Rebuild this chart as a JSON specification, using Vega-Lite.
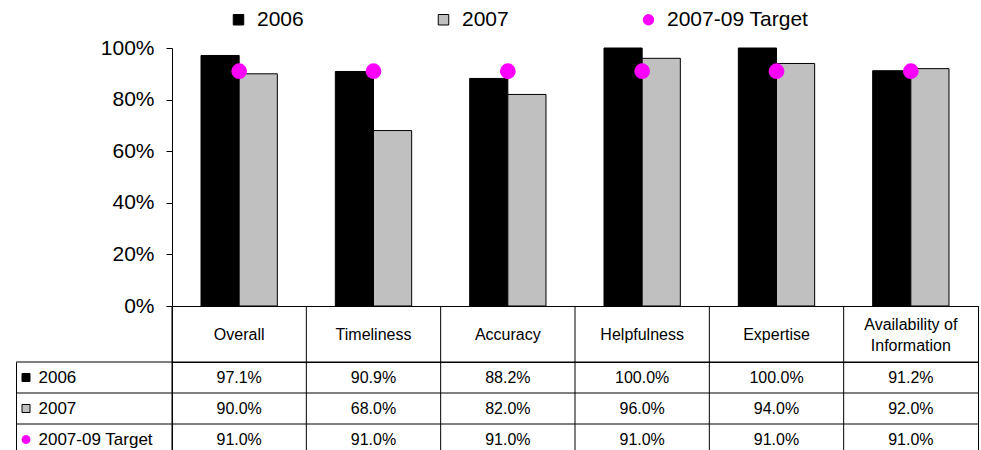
{
  "$schema": "https://vega.github.io/schema/vega-lite/v6.json",
  "padding": {"left": 15, "top": 9, "right": 0, "bottom": 0},
  "background": "white",
  "columns": 3,
  "spacing": 0,
  "bounds": "flush",
  "data": {"values": [
    {"category": "Overall", "series": "2006", "value": 0.971},
    {"category": "Overall", "series": "2007", "value": 0.90},
    {"category": "Overall", "series": "2007-09 Target", "value": 0.91},
    {"category": "Timeliness", "series": "2006", "value": 0.909},
    {"category": "Timeliness", "series": "2007", "value": 0.68},
    {"category": "Timeliness", "series": "2007-09 Target", "value": 0.91},
    {"category": "Accuracy", "series": "2006", "value": 0.882},
    {"category": "Accuracy", "series": "2007", "value": 0.82},
    {"category": "Accuracy", "series": "2007-09 Target", "value": 0.91},
    {"category": "Helpfulness", "series": "2006", "value": 1.0},
    {"category": "Helpfulness", "series": "2007", "value": 0.96},
    {"category": "Helpfulness", "series": "2007-09 Target", "value": 0.91},
    {"category": "Expertise", "series": "2006", "value": 1.0},
    {"category": "Expertise", "series": "2007", "value": 0.94},
    {"category": "Expertise", "series": "2007-09 Target", "value": 0.91},
    {"category": "Availability of Information", "series": "2006", "value": 0.912},
    {"category": "Availability of Information", "series": "2007", "value": 0.92},
    {"category": "Availability of Information", "series": "2007-09 Target", "value": 0.91}
  ]},
  "concat": [
    {"width": 20, "height": 258, "data": {"values": []}, "mark": "point", "encoding": {}},
    {"width": 136, "height": 258, "data": {"values": []}, "mark": "point", "encoding": {}},
    {
      "width": 806, "height": 258,
      "layer": [
        {
          "transform": [{"filter": "datum.series != '2007-09 Target'"}],
          "mark": {"type": "bar", "strokeWidth": 1},
          "encoding": {
            "x": {"field": "category", "type": "nominal", "sort": null,
              "scale": {"type": "band", "domain": ["Overall", "Timeliness", "Accuracy", "Helpfulness", "Expertise", "Availability of Information"], "paddingInner": 0, "paddingOuter": 0},
              "axis": {"title": null, "ticks": false, "tickSize": 0, "domain": true, "domainColor": "black", "labelAngle": 0, "labelFontSize": 16, "labelBaseline": "middle",
                "labelPadding": {"condition": {"test": "datum.value == 'Availability of Information'", "value": 18}, "value": 28},
                "labelLineHeight": 21, "labelLimit": 300,
                "labelExpr": "datum.label == 'Availability of Information' ? ['Availability of', 'Information'] : datum.label"}},
            "xOffset": {"field": "series", "type": "nominal", "scale": {"paddingInner": 0, "paddingOuter": 0.76}},
            "y": {"field": "value", "type": "quantitative",
              "scale": {"domain": [0, 1], "nice": false},
              "axis": {"title": null, "values": [0, 0.2, 0.4, 0.6, 0.8, 1], "format": ".0%", "grid": false, "labelFontSize": 21, "tickSize": 6, "tickColor": "black", "domainColor": "black", "labelPadding": 12}},
            "fill": {"field": "series", "type": "nominal",
              "scale": {"domain": ["2006", "2007", "2007-09 Target"], "range": ["#000000", "#c0c0c0", "#ff00ff"]},
              "legend": {"orient": "none", "legendX": 212, "legendY": -39, "direction": "horizontal", "title": null, "columns": 3, "gridAlign": "all", "columnPadding": 34, "labelFontSize": 21, "labelFont": "Liberation Sans", "labelColor": "black", "symbolSize": 110, "labelOffset": 8, "symbolStrokeWidth": 1, "symbolOpacity": 1}},
            "stroke": {"field": "series", "type": "nominal",
              "scale": {"domain": ["2006", "2007", "2007-09 Target"], "range": ["#000000", "#000000", "#ff00ff"]}}
          }
        },
        {
          "transform": [{"filter": "datum.series == '2007-09 Target'"}],
          "mark": {"type": "point", "filled": true, "size": 190, "opacity": 1},
          "encoding": {
            "x": {"field": "category", "type": "nominal", "sort": null},
            "y": {"field": "value", "type": "quantitative"},
            "fill": {"field": "series", "type": "nominal"},
            "stroke": {"field": "series", "type": "nominal"},
            "shape": {"field": "series", "type": "nominal",
              "scale": {"domain": ["2006", "2007", "2007-09 Target"], "range": ["square", "square", "circle"]}}
          }
        }
      ]
    },
    {"width": 20, "height": 56, "data": {"values": []}, "mark": "point", "encoding": {}},
    {"width": 136, "height": 56, "data": {"values": []}, "mark": "point", "encoding": {}},
    {
      "width": 806, "height": 56,
      "view": {"stroke": "black", "strokeWidth": 1},
      "transform": [{"filter": "datum.series == '2006'"}],
      "mark": {"type": "rule", "color": "black", "strokeWidth": 1},
      "encoding": {
        "x": {"field": "category", "type": "nominal", "sort": null, "bandPosition": 0,
          "scale": {"type": "band", "domain": ["Overall", "Timeliness", "Accuracy", "Helpfulness", "Expertise", "Availability of Information"], "paddingInner": 0, "paddingOuter": 0},
          "axis": null}
      }
    },
    {
      "width": 20, "height": 93,
      "layer": [
        {
          "transform": [{"filter": "datum.category == 'Overall'"}],
          "mark": {"type": "rule", "color": "black", "strokeWidth": 1},
          "encoding": {
            "y": {"field": "series", "type": "nominal", "bandPosition": 0,
              "scale": {"type": "band", "domain": ["2006", "2007", "2007-09 Target"], "paddingInner": 0, "paddingOuter": 0},
              "axis": {"title": null, "labels": false, "ticks": false, "tickSize": 0, "domain": true, "domainColor": "black", "grid": false}}
          }
        },
        {
          "transform": [{"filter": "datum.category == 'Overall'"}],
          "mark": {"type": "point", "filled": true, "size": 64, "opacity": 1, "strokeWidth": 1},
          "encoding": {
            "y": {"field": "series", "type": "nominal"},
            "fill": {"field": "series", "type": "nominal"},
            "stroke": {"field": "series", "type": "nominal"},
            "shape": {"field": "series", "type": "nominal"}
          }
        }
      ]
    },
    {
      "width": 136, "height": 93,
      "transform": [{"filter": "datum.category == 'Overall'"}],
      "mark": {"type": "rule", "color": "black", "strokeWidth": 1},
      "encoding": {
        "y": {"field": "series", "type": "nominal", "bandPosition": 0,
          "scale": {"type": "band", "domain": ["2006", "2007", "2007-09 Target"], "paddingInner": 0, "paddingOuter": 0},
          "axis": {"title": null, "ticks": false, "tickSize": 0, "domain": false, "grid": false, "labelAlign": "left", "labelPadding": -2, "labelFontSize": 17, "labelBaseline": "middle", "labelLimit": 200}}
      }
    },
    {
      "width": 806, "height": 93,
      "view": {"stroke": "black", "strokeWidth": 1},
      "layer": [
        {
          "mark": {"type": "text", "fontSize": 16, "color": "black"},
          "encoding": {
            "x": {"field": "category", "type": "nominal", "sort": null,
              "scale": {"type": "band", "domain": ["Overall", "Timeliness", "Accuracy", "Helpfulness", "Expertise", "Availability of Information"], "paddingInner": 0, "paddingOuter": 0},
              "axis": null},
            "y": {"field": "series", "type": "nominal",
              "scale": {"type": "band", "domain": ["2006", "2007", "2007-09 Target"], "paddingInner": 0, "paddingOuter": 0},
              "axis": null},
            "text": {"field": "value", "type": "quantitative", "format": ".1%"}
          }
        },
        {
          "transform": [{"filter": "datum.series == '2006'"}],
          "mark": {"type": "rule", "color": "black", "strokeWidth": 1},
          "encoding": {
            "x": {"field": "category", "type": "nominal", "sort": null, "bandPosition": 0}
          }
        },
        {
          "transform": [{"filter": "datum.category == 'Overall'"}],
          "mark": {"type": "rule", "color": "black", "strokeWidth": 1},
          "encoding": {
            "y": {"field": "series", "type": "nominal", "bandPosition": 0}
          }
        }
      ]
    }
  ],
  "config": {
    "view": {"stroke": null},
    "font": "Liberation Sans",
    "axis": {"labelFont": "Liberation Sans", "labelColor": "black"},
    "text": {"font": "Liberation Sans"}
  }
}
